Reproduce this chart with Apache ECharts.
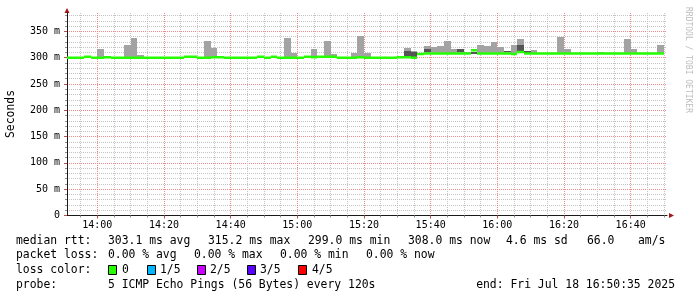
<!DOCTYPE html>
<html><head><meta charset="utf-8">
<script src="https://cdn.jsdelivr.net/npm/echarts@6/dist/echarts.min.js"></script>
<style>html,body{margin:0;padding:0;background:#fff}#c{width:697px;height:297px}</style>
</head><body><div id="c"></div>
<script>
// ---- data (2-minute steps starting 13:50) ----
const firstStep = '13:50';
const stepMinutes = 2;
const medianRtt = [
 300,300,300,302,300,300,301,300,300,300,
 300,300,300,300,300,300,300,300,302,302,
 300,300,301,301,300,300,300,300,300,302,
 300,302,300,300,300,300,302,301,302,302,
 302,300,300,300,301,300,300,300,300,300,
 301,301,300,307,308,308,308,308,308,308,
 308,314,308,308,308,308,308,307,311,308,
 308,308,308,308,308,308,308,308,308,308,
 308,308,308,308,308,308,308,308,308,308];
const smokeMax = [
 null,null,null,303,null,316,304,null,null,325,
 337,306,null,null,null,null,null,null,null,null,
 null,332,318,303,null,null,null,null,null,null,
 null,null,null,338,309,null,null,316,304,331,
 308,null,null,309,341,309,null,null,null,null,
 null,318,312,null,322,320,322,332,317,317,
 311,null,324,322,330,320,313,324,335,313,
 315,null,null,null,339,316,null,null,null,null,
 311,null,null,null,335,316,null,null,null,325];
const darkStep = [51, 52, 54, 59, 61, 66, 68, 69];
const darkLow  = [303,301,310,311,307,311,313,309];
const darkHigh = [313,310,317,317,311,313,325,312];
const xTickLabels = ['14:00','14:20','14:40','15:00','15:20','15:40','16:00','16:20','16:40'];
const yTickValues = [0,50,100,150,200,250,300,350];
const yTickLabels = ['0','50 m','100 m','150 m','200 m','250 m','300 m','350 m'];
const lossLabels = ['0','1/5','2/5','3/5','4/5'];
const lossColors = ['#26ff00','#00b8ff','#c800ff','#5a00ff','#ff0000'];

// ---- build ----
const toMin = s => { const [h,m] = s.split(':').map(Number); return h*60+m; };
const t0 = toMin(firstStep);
const X0 = 830.9, X1 = 1010.9;
const xMajor = xTickLabels.map(toMin);
const xMinor = [];
for (let v = 835; v <= 1010; v += 5) if (v % 20 !== 0) xMinor.push(v);
const yMinor = [];
for (let v = 10; v <= 380; v += 10) if (v % 50 !== 0) yMinor.push(v);

const smokeData = [], greenData = [], darkData = [];
medianRtt.forEach((m, i) => {
  const s = t0 + i*stepMinutes;
  greenData.push([s, s+stepMinutes, m]);
  if (smokeMax[i] != null) smokeData.push([s, s+stepMinutes, m, smokeMax[i]]);
});
darkStep.forEach((i, k) => {
  const s = t0 + i*stepMinutes;
  darkData.push([s, s+stepMinutes, darkLow[k], darkHigh[k]]);
});

function bandRender(color) {
  return function (params, api) {
    const a = api.coord([api.value(0), api.value(3)]);
    const b = api.coord([api.value(1), api.value(2)]);
    const x = Math.round(a[0]), x2 = Math.round(b[0]);
    const y = Math.round(a[1]), y2 = Math.round(b[1]);
    return {type:'rect', shape:{x:x, y:y, width:x2-x, height:y2-y}, style:{fill:color}};
  };
}
function greenRender(params, api) {
  const a = api.coord([api.value(0), api.value(2)]);
  const b = api.coord([api.value(1), api.value(2)]);
  const x = Math.round(a[0]), x2 = Math.round(b[0]);
  return {type:'rect', shape:{x:x, y:a[1]-1.25, width:x2-x, height:2.5}, style:{fill:lossColors[0]}};
}

const MONO = '"DejaVu Sans Mono", monospace';
const pad = n => (n < 10 ? '0' : '') + n;
const fmtX = v => Math.floor(v/60) + ':' + pad(Math.round(v % 60));

const graphics = [];
function txt(x, y, s, opt) {
  graphics.push(Object.assign({type:'text', x:x, y:y, silent:true,
    style:{text:s, font:'11.4px ' + MONO, fill:'#000', verticalAlign:'middle', textVerticalAlign:'middle'}}, opt||{}));
}
const L1 = 241, L2 = 255.5, L3 = 270, L4 = 285;
txt(16, L1, 'median rtt:');
txt(108, L1, '303.1 ms avg');
txt(208, L1, '315.2 ms max');
txt(308, L1, '299.0 ms min');
txt(408, L1, '308.0 ms now');
txt(506, L1, '4.6 ms sd');
txt(587, L1, '66.0');
txt(638, L1, 'am/s');
txt(16, L2, 'packet loss:');
txt(108, L2, '0.00 % avg');
txt(194, L2, '0.00 % max');
txt(280, L2, '0.00 % min');
txt(366, L2, '0.00 % now');
txt(16, L3, 'loss color:');
const boxX = [108.5, 147.5, 197.5, 247.5, 298.5];
const lblX = [122, 160, 210, 260, 312];
lossLabels.forEach((l, i) => {
  graphics.push({type:'rect', silent:true, shape:{x:boxX[i], y:L3-4.5, width:8, height:9},
    style:{fill:lossColors[i], stroke:'#000', lineWidth:1}});
  txt(lblX[i], L3, l);
});
txt(16, L4, 'probe:');
txt(108, L4, '5 ICMP Echo Pings (56 Bytes) every 120s');
graphics.push({type:'text', x:675, y:L4, silent:true,
  style:{text:'end: Fri Jul 18 16:50:35 2025', font:'11.4px ' + MONO, fill:'#000',
         align:'right', textAlign:'right', verticalAlign:'middle', textVerticalAlign:'middle'}});
graphics.push({type:'text', x:11, y:114, rotation:Math.PI/2, silent:true,
  style:{text:'Seconds', font:'11.4px ' + MONO, fill:'#000',
         align:'center', textAlign:'center', verticalAlign:'middle', textVerticalAlign:'middle'}});
graphics.push({type:'text', x:688, y:60, rotation:-Math.PI/2, silent:true,
  style:{text:'RRDTOOL / TOBI OETIKER', font:'8px ' + MONO, fill:'#bdbdbd',
         align:'center', textAlign:'center', verticalAlign:'middle', textVerticalAlign:'middle'}});
graphics.push({type:'polygon', silent:true, shape:{points:[[64.5,13],[67,8],[69.5,13]]}, style:{fill:'#a01818'}});
graphics.push({type:'polygon', silent:true, shape:{points:[[669,213],[674,215.5],[669,218]]}, style:{fill:'#a01818'}});

const chart = echarts.init(document.getElementById('c'), null, {renderer:'canvas'});
chart.setOption({
  animation:false,
  backgroundColor:'#ffffff',
  grid:{left:67, right:30, top:13, bottom:81.5, show:false},
  xAxis:[
    {type:'value', min:X0, max:X1, position:'bottom',
     axisLine:{show:true, onZero:false, lineStyle:{color:'#1a1a1a', width:1}},
     axisTick:{show:true, customValues:xMinor, length:2, lineStyle:{color:'#909090'}},
     axisLabel:{show:false},
     splitLine:{show:true, lineStyle:{color:'#c4c4c4', type:'dotted', width:1}}},
    {type:'value', min:X0, max:X1, position:'bottom',
     axisLine:{show:false},
     axisTick:{show:true, customValues:xMajor, length:3, lineStyle:{color:'#c05050'}},
     axisLabel:{show:true, customValues:xMajor, formatter:fmtX, margin:4.5,
       fontFamily:'DejaVu Sans Mono', fontSize:10, color:'#000'},
     splitLine:{show:true, lineStyle:{color:'#f08a8a', type:'dotted', width:1}}}
  ],
  yAxis:[
    {type:'value', min:0, max:385, position:'left',
     axisLine:{show:true, onZero:false, lineStyle:{color:'#1a1a1a', width:1}},
     axisTick:{show:true, customValues:yMinor, length:2, lineStyle:{color:'#909090'}},
     axisLabel:{show:false},
     splitLine:{show:true, lineStyle:{color:'#c4c4c4', type:'dotted', width:1}}},
    {type:'value', min:0, max:385, position:'left',
     axisLine:{show:false},
     axisTick:{show:true, customValues:yTickValues, length:3, lineStyle:{color:'#c05050'}},
     axisLabel:{show:true, customValues:yTickValues, margin:7,
       formatter:v => yTickLabels[yTickValues.indexOf(v)],
       fontFamily:'DejaVu Sans Mono', fontSize:10, color:'#000'},
     splitLine:{show:true, lineStyle:{color:'#f08a8a', type:'dotted', width:1}}}
  ],
  series:[
    {type:'custom', name:'smoke', xAxisIndex:0, yAxisIndex:0, clip:true, silent:true,
     renderItem:bandRender('#a3a3a3'), data:smokeData, encode:{x:[0,1], y:[2,3]}, z:2},
    {type:'custom', name:'smoke inner', xAxisIndex:0, yAxisIndex:0, clip:true, silent:true,
     renderItem:bandRender('#555555'), data:darkData, encode:{x:[0,1], y:[2,3]}, z:3},
    {type:'custom', name:'median', xAxisIndex:0, yAxisIndex:0, clip:true, silent:true,
     renderItem:greenRender, data:greenData, encode:{x:[0,1], y:2}, z:4}
  ],
  graphic:graphics
});
</script></body></html>
